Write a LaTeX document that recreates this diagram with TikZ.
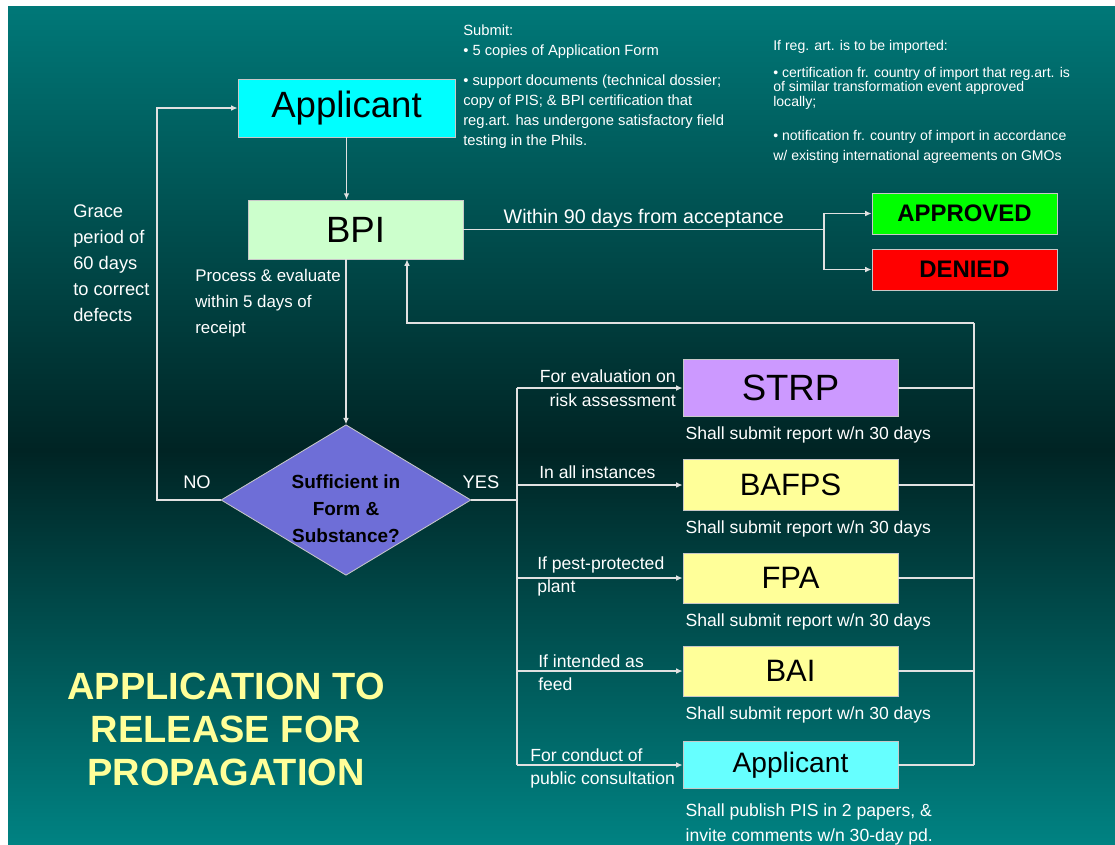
\documentclass[tikz,border=0pt]{standalone}
\usepackage{fontspec}
\setmainfont{Liberation Sans}
\usetikzlibrary{
    calc,
    arrows.meta,
    shapes.geometric
}
\definecolor{tealtop}{RGB}{0,120,120}
\definecolor{tealdark}{RGB}{0,36,36}
\definecolor{tealmid}{RGB}{0,100,100}
\definecolor{tealbot}{RGB}{0,130,130}
\definecolor{wirecolor}{RGB}{225,225,225}
\definecolor{boxedge}{RGB}{200,200,200}
\definecolor{appcyan}{RGB}{0,255,255}
\definecolor{bpigreen}{RGB}{204,255,204}
\definecolor{strpviolet}{RGB}{204,153,255}
\definecolor{agencyyellow}{RGB}{255,255,153}
\definecolor{consultcyan}{RGB}{102,255,255}
\definecolor{okgreen}{RGB}{0,255,0}
\definecolor{nored}{RGB}{255,0,0}
\definecolor{diamondblue}{RGB}{110,110,215}
\definecolor{titleyellow}{RGB}{255,255,153}
\tikzset{
    box/.style={draw=boxedge, line width=0.6pt, inner sep=0pt, text=black},
    agency/.style={box, minimum width=5.375cm, font=\fontsize{22}{26}\selectfont},
    verdict/.style={box, minimum width=4.625cm, minimum height=1.025cm, font=\bfseries\fontsize{17}{20}\selectfont},
    wire/.style={draw=wirecolor, line width=0.8pt},
    arr/.style={wire, -{Latex[length=4.5pt,width=4pt]}},
    note/.style={text=white, inner sep=0pt, align=left, font=\fontsize{12.5}{17}\selectfont},
    small/.style={text=white, inner sep=0pt, align=left, font=\fontsize{10.5}{14.2}\selectfont}
}
\newcommand{\reportnote}{Shall submit report w/n 30 days}

\begin{document}
\begin{tikzpicture}[x=0.025cm, y=-0.025cm]
        \useasboundingbox (0,0) rectangle (1115,844);
        \fill[white] (0,0) rectangle (1115,844);
        \shade[top color=tealtop, bottom color=tealdark] (8,6) rectangle (1115,450);
        \shade[top color=tealdark, middle color=tealmid, bottom color=tealbot] (8,450) rectangle (1115,844);

        \draw (346.5,108) node[box, fill=appcyan, minimum width=5.425cm, minimum height=1.45cm, font=\fontsize{26}{30}\selectfont](app){Applicant};
        \draw (355.5,229.5) node[box, fill=bpigreen, minimum width=5.375cm, minimum height=1.475cm, font=\fontsize{26}{30}\selectfont](bpi){BPI};
        \draw (964.5,213.5) node[verdict, fill=okgreen](ok){APPROVED};
        \draw (964.5,269.5) node[verdict, fill=nored](no){DENIED};
        \draw (346,500) node[diamond, aspect=1.66, draw=boxedge, line width=0.6pt, fill=diamondblue, inner sep=0pt,
            minimum width=6.2cm, minimum height=3.725cm, align=center,
            font=\bfseries\fontsize{13.5}{19.2}\selectfont](dia){\rule{0pt}{22pt}Sufficient in\\Form \&\\Substance?};

        \draw (790.5,388) node[agency, fill=strpviolet, minimum height=1.425cm, font=\fontsize{26}{30}\selectfont](strp){STRP};
        \draw (790.5,485) node[agency, fill=agencyyellow, minimum height=1.275cm](bafps){BAFPS};
        \draw (790.5,578) node[agency, fill=agencyyellow, minimum height=1.25cm](fpa){FPA};
        \draw (790.5,671) node[agency, fill=agencyyellow, minimum height=1.25cm](bai){BAI};
        \draw (790.5,765) node[agency, fill=consultcyan, minimum height=1.175cm, font=\fontsize{20}{24}\selectfont](app2){Applicant};

        \coordinate (loopL) at (157,500);
        \coordinate (busL) at (517,500);
        \coordinate (busR) at (974,323);
        \coordinate (ret) at (407,323);
        \coordinate (split) at (824,229.5);

        \draw[arr] (app.south) -- (app.south |- bpi.north);
        \draw[arr] (dia.north |- bpi.south) -- (dia.north);
        \draw[arr] (dia.west) -- (loopL) |- (app.west);
        \draw[wire] (bpi.east) to node[midway, above=1pt, note, font=\fontsize{14}{17}\selectfont](within){Within 90 days from acceptance} (split);
        \draw[arr] (split) |- (ok.west);
        \draw[arr] (split) |- (no.west);
        \draw[arr] (busR) -- (ret) -- (ret |- bpi.south);
        \draw[wire] (busR) -- (busR |- app2.east);
        \draw[wire] (dia.east) -- (busL);
        \draw[wire] (busL |- strp.west) -- (busL |- app2.west);
        \foreach \n in {strp,bafps,fpa,bai,app2}{
            \draw[arr] (busL |- \n.west) -- (\n.west);
            \draw[wire] (\n.east) -- (\n.east -| busR);
        }

        \draw (73,204) node[note, anchor=north west, font=\fontsize{13}{18.5}\selectfont](grace){Grace\\period of\\60 days\\to correct\\defects};
        \draw (195,269) node[note, anchor=north west, font=\fontsize{12}{18.5}\selectfont](process){Process \& evaluate\\within 5 days of\\receipt};
        \draw (197,482) node[note, font=\fontsize{13}{16}\selectfont](nolabel){NO};
        \draw (481,482) node[note, font=\fontsize{13}{16}\selectfont](yeslabel){YES};

        \draw (676,388) node[note, anchor=east, align=right](forstrp){For evaluation on\\risk assessment};
        \draw (539,465) node[note, anchor=north west](forbafps){In all instances};
        \draw (537,556) node[note, anchor=north west](forfpa){If pest-protected\\plant};
        \draw (538,654) node[note, anchor=north west](forbai){If intended as\\feed};
        \draw (530,748) node[note, anchor=north west](forapp){For conduct of\\public consultation};

        \foreach \n in {strp,bafps,fpa,bai}{
            \draw ([xshift=2pt,yshift=-7pt]\n.south west) node[note, anchor=north west](\n note){\reportnote};
        }
        \draw ([xshift=2pt,yshift=-10pt]app2.south west) node[note, anchor=north west, font=\fontsize{12.5}{17.8}\selectfont](app2note){Shall publish PIS in 2 papers, \&\\invite comments w/n 30-day pd.};

        \draw (463,25) node[small, anchor=north west](submit){Submit:\\
            • 5 copies of Application Form\\[7pt]
            • support documents (technical dossier;\\
            copy of PIS; \& BPI certification that\\
            reg.art. has undergone satisfactory field\\
            testing in the Phils.};
        \draw (773,40) node[small, anchor=north west, font=\fontsize{10}{14.2}\selectfont](import){If reg. art. is to be imported:\\[5pt]
            • certification fr. country of import that reg.art. is\\[-4pt]
            of similar transformation event approved\\[-4pt]
            locally;\\[10pt]
            • notification fr. country of import in accordance\\
            w/ existing international agreements on GMOs};

        \draw (226,729) node[text=titleyellow, align=center, inner sep=0pt, font=\bfseries\fontsize{27}{30.6}\selectfont](title){APPLICATION TO\\RELEASE FOR\\PROPAGATION};
    \end{tikzpicture}
\end{document}
